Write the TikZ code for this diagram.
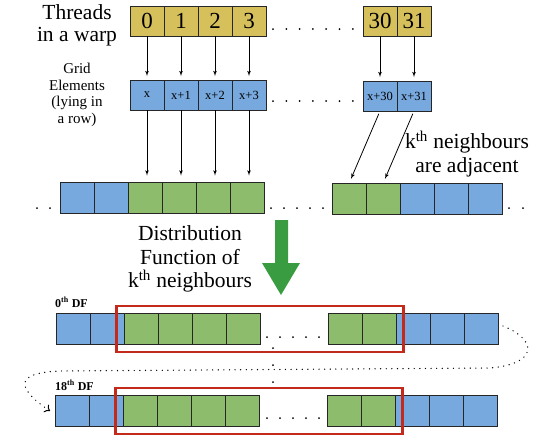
\documentclass[tikz,border=0pt]{standalone}
\usepackage{fontspec}
\setmainfont{Liberation Serif}
\usetikzlibrary{shapes,arrows,arrows.meta,positioning,fit}

\definecolor{warpyellow}{RGB}{214,192,92}
\definecolor{gridblue}{RGB}{120,169,222}
\definecolor{nbgreen}{RGB}{141,188,108}
\definecolor{dfred}{RGB}{196,42,28}
\definecolor{bigarrow}{RGB}{58,156,64}

\begin{document}
\begin{tikzpicture}[x=1pt, y=-1pt]
    \tikzstyle{cell} = [rectangle, draw=black!85, line width=0.8pt,
        minimum width=34pt, minimum height=30pt, inner sep=0pt, outer sep=0pt]
    \tikzstyle{thread} = [cell, fill=warpyellow, font=\fontsize{23}{23}\selectfont]
    \tikzstyle{elem} = [cell, fill=gridblue, font=\fontsize{12.5}{13}\selectfont]
    \tikzstyle{bluecell} = [cell, fill=gridblue, minimum height=31pt]
    \tikzstyle{greencell} = [cell, fill=nbgreen, minimum height=31pt]
    \tikzstyle{bigtext} = [align=center, font=\fontsize{21.5}{23.5}\selectfont]
    \tikzstyle{smalltext} = [align=center, font=\fontsize{15}{16.5}\selectfont]
    \tikzstyle{dflabel} = [anchor=base west, inner sep=0pt, font=\bfseries\fontsize{12}{12}\selectfont]
    \tikzstyle{redframe} = [draw=dfred, line width=2.6pt, inner sep=7.5pt]
    \tikzstyle{line} = [draw, line width=0.8pt, -latex']
    \tikzstyle{dotloop} = [draw, line width=1.4pt, dash pattern=on 0pt off 5.6pt,
        line cap=round, -{To[length=5pt, width=9pt, line width=1pt]}]

    \useasboundingbox (0,0) rectangle (542,437);

    % threads and grid elements
    \node [thread] (t0) at (147,21) {0};
    \node [thread, right=0pt of t0] (t1) {1};
    \node [thread, right=0pt of t1] (t2) {2};
    \node [thread, right=0pt of t2] (t3) {3};
    \node [thread] (t30) at (380,21) {30};
    \node [thread, right=0pt of t30] (t31) {31};

    \node [elem] (g0) at (147,95) {x};
    \node [elem, right=0pt of g0] (g1) {x+1};
    \node [elem, right=0pt of g1] (g2) {x+2};
    \node [elem, right=0pt of g2] (g3) {x+3};
    \node [elem] (g30) at (380,96) {x+30};
    \node [elem, right=0pt of g30] (g31) {x+31};

    \node [bigtext, font=\fontsize{21.5}{22}\selectfont] (warp) at (77,25) {Threads\\in a warp};
    \node [smalltext] (elems) at (77,95) {Grid\\Elements\\(lying in\\a row)};

    % distribution function row
    \foreach \s [count=\i] in {bluecell,bluecell,greencell,greencell,greencell,greencell}
        \node [\s] (a\i) at (43+34*\i,198) {};
    \foreach \s [count=\i] in {greencell,greencell,bluecell,bluecell,bluecell}
        \node [\s] (b\i) at (315+34*\i,199) {};

    \node [bigtext] (adj) at (467,154) {k\textsuperscript{th} neighbours\\are adjacent};
    \node [bigtext] (dist) at (190,259) {Distribution\\Function of\\k\textsuperscript{th} neighbours};

    \foreach \n in {0,1,2,3,30,31}
        \path [line, shorten >=4pt] (t\n.south) -- (g\n.north);
    \foreach \i/\j in {0/3,1/4,2/5,3/6}
        \path [line, shorten >=7pt] (g\i.south) -- (g\i.south |- a\j.north);
    \path [line, shorten <=3pt, shorten >=5pt] (g30.south) -- (b1.north);
    \path [line, shorten <=3pt, shorten >=5pt] (g31.south) -- (b2.north);

    \fill [bigarrow] (275,220) -- (288,220) -- (288,263) -- (300,263)
        -- (281,295) -- (262,263) -- (275,263) -- cycle;

    % 0th and 18th DF
    \foreach \s [count=\i] in {bluecell,bluecell,greencell,greencell,greencell,greencell}
        \node [\s] (c\i) at (39+34*\i,329) {};
    \foreach \s [count=\i] in {greencell,greencell,bluecell,bluecell,bluecell}
        \node [\s] (d\i) at (311+34*\i,329) {};
    \foreach \s [count=\i] in {bluecell,bluecell,greencell,greencell,greencell,greencell}
        \node [\s] (e\i) at (38+34*\i,411) {};
    \foreach \s [count=\i] in {greencell,greencell,bluecell,bluecell,bluecell}
        \node [\s] (f\i) at (310+34*\i,411) {};

    \node [redframe, fit=(c3)(d2)] (frame0) {};
    \node [redframe, fit=(e3)(f2)] (frame18) {};

    \node [dflabel] (df0) at (55,307) {0\textsuperscript{th} DF};
    \node [dflabel] (df18) at (55,390) {18\textsuperscript{th} DF};

    \path [dotloop] ([xshift=5pt,yshift=3pt]d5.east) .. controls (538,340) and (538,364) .. (490,368)
        -- (60,371) .. controls (8,373) and (22,392) .. ([xshift=-5pt]e1.west);

    % dots
    \foreach \x in {273,286.3,...,354} {
        \fill (\x,29) circle (1pt);
        \fill (\x,101) circle (1pt);
    }
    \foreach \x in {37,50,271,284,297,310,323,509,523}
        \fill (\x,208) circle (1pt);
    \foreach \x in {267,280,293,306,319} {
        \fill (\x,337) circle (1pt);
        \fill (\x,418) circle (1pt);
    }
    \foreach \y in {348,365,382}
        \fill (273,\y) circle (1pt);
\end{tikzpicture}
\end{document}
